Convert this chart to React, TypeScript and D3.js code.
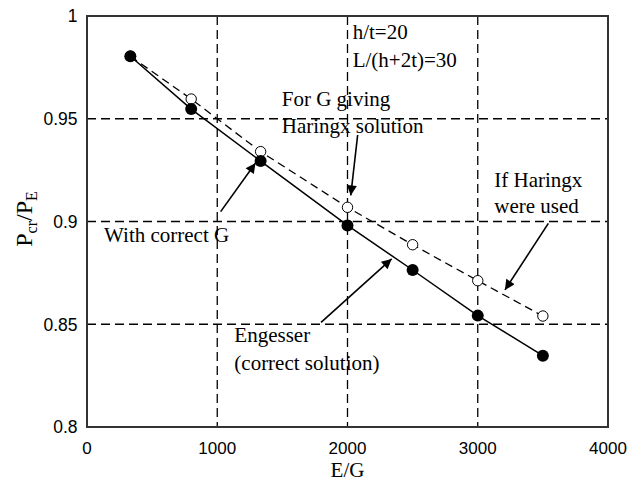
import { useEffect, useRef } from "react";
import * as d3 from "d3";

// E/G values and Pcr/PE ratios
const engesserX = [333, 800, 1333, 2000, 2500, 3000, 3500];
const engesserY = [0.9804, 0.9547, 0.9294, 0.8981, 0.8764, 0.8542, 0.8347];
const haringxX = [333, 800, 1333, 2000, 2500, 3000, 3500];
const haringxY = [0.9804, 0.9596, 0.934, 0.9069, 0.8887, 0.8712, 0.854];

const xTicks = [0, 1000, 2000, 3000, 4000];
const yTicks = [0.8, 0.85, 0.9, 0.95, 1];
const xGrid = [1000, 2000, 3000];
const yGrid = [0.85, 0.9, 0.95];

// annotation text lines: [E/G, ratio, text]
const notes: [number, number, string][] = [
  [2040, 0.9888, "h/t=20"],
  [2040, 0.9752, "L/(h+2t)=30"],
  [1495, 0.9562, "For G giving"],
  [1495, 0.9431, "Haringx solution"],
  [3127, 0.9169, "If Haringx"],
  [3127, 0.9041, "were used"],
  [131, 0.8902, "With correct G"],
  [1131, 0.8415, "Engesser"],
  [1131, 0.8277, "(correct solution)"],
];

// arrows: [fromX, fromY, toX, toY] in data units
const arrows: [number, number, number, number][] = [
  [1026, 0.9048, 1294, 0.9285],
  [2078, 0.9421, 2025, 0.9127],
  [1797, 0.8509, 2339, 0.8818],
  [3542, 0.8991, 3209, 0.8667],
];

const serif = "'Liberation Serif', 'Times New Roman', serif";
const sans = "'Liberation Sans', Arial, sans-serif";

export default function App() {
  const svgRef = useRef<SVGSVGElement>(null);

  useEffect(() => {
    if (!svgRef.current) return;
    const svg = d3.select(svgRef.current);
    svg.selectAll("*").remove();

    const W = 629, H = 481;
    const margin = { top: 16, right: 21, bottom: 54, left: 87 };
    const w = W - margin.left - margin.right;
    const h = H - margin.top - margin.bottom;

    const x = d3.scaleLinear().domain([0, 4000]).range([0, w]);
    const y = d3.scaleLinear().domain([0.8, 1]).range([h, 0]);

    const defs = svg.append("defs");
    defs.append("marker")
      .attr("id", "arrowhead")
      .attr("viewBox", "0 0 10 10")
      .attr("refX", 10).attr("refY", 5)
      .attr("markerWidth", 12).attr("markerHeight", 10)
      .attr("markerUnits", "userSpaceOnUse")
      .attr("orient", "auto")
      .append("path").attr("d", "M0,0 L10,5 L0,10 Z").attr("fill", "#000");

    const g = svg.append("g").attr("transform", `translate(${margin.left},${margin.top})`);

    // grid
    g.selectAll(".vgrid").data(xGrid).enter().append("line")
      .attr("x1", (d) => x(d)).attr("x2", (d) => x(d))
      .attr("y1", 0).attr("y2", h)
      .attr("stroke", "#000").attr("stroke-width", 1.3).attr("stroke-dasharray", "9,5");
    g.selectAll(".hgrid").data(yGrid).enter().append("line")
      .attr("x1", 0).attr("x2", w)
      .attr("y1", (d) => y(d)).attr("y2", (d) => y(d))
      .attr("stroke", "#000").attr("stroke-width", 1.3).attr("stroke-dasharray", "9,5");

    // frame
    g.append("rect").attr("width", w).attr("height", h)
      .attr("fill", "none").attr("stroke", "#333").attr("stroke-width", 2);

    // tick labels
    g.selectAll(".xt").data(xTicks).enter().append("text")
      .attr("x", (d) => x(d)).attr("y", h + 27)
      .attr("text-anchor", "middle").attr("font-family", sans).attr("font-size", 17)
      .text((d) => d);
    g.selectAll(".yt").data(yTicks).enter().append("text")
      .attr("x", -9.5).attr("y", (d) => y(d)).attr("dy", "0.36em")
      .attr("text-anchor", "end").attr("font-family", sans).attr("font-size", 17.5)
      .text((d) => String(d));

    // axis titles
    g.append("text")
      .attr("x", w / 2).attr("y", h + 49.5)
      .attr("text-anchor", "middle").attr("font-family", serif).attr("font-size", 21)
      .text("E/G");
    const yl = g.append("text")
      .attr("transform", `translate(${-55},${y(0.9) - 2.5}) rotate(-90)`)
      .attr("text-anchor", "middle").attr("font-family", serif).attr("font-size", 24);
    yl.append("tspan").text("P");
    yl.append("tspan").attr("font-size", 16).attr("dy", 5).text("cr");
    yl.append("tspan").attr("dy", -5).text("/P");
    yl.append("tspan").attr("font-size", 16).attr("dy", 5).text("E");

    // lines
    const line = d3.line<[number, number]>().x((d) => x(d[0])).y((d) => y(d[1]));
    const hPts = haringxX.map((v, i) => [v, haringxY[i]] as [number, number]);
    const ePts = engesserX.map((v, i) => [v, engesserY[i]] as [number, number]);

    g.append("path").attr("d", line(hPts)).attr("fill", "none")
      .attr("stroke", "#000").attr("stroke-width", 1.3).attr("stroke-dasharray", "8,5");
    g.append("path").attr("d", line(ePts)).attr("fill", "none")
      .attr("stroke", "#000").attr("stroke-width", 1.5);

    g.selectAll(".open").data(hPts).enter().append("circle")
      .attr("cx", (d) => x(d[0])).attr("cy", (d) => y(d[1])).attr("r", 5.2)
      .attr("fill", "#fff").attr("stroke", "#000").attr("stroke-width", 1);
    g.selectAll(".filled").data(ePts).enter().append("circle")
      .attr("cx", (d) => x(d[0])).attr("cy", (d) => y(d[1])).attr("r", 6)
      .attr("fill", "#000");

    // arrows
    g.selectAll(".arrow").data(arrows).enter().append("line")
      .attr("x1", (d) => x(d[0])).attr("y1", (d) => y(d[1]))
      .attr("x2", (d) => x(d[2])).attr("y2", (d) => y(d[3]))
      .attr("stroke", "#000").attr("stroke-width", 1.6)
      .attr("marker-end", "url(#arrowhead)");

    // annotations
    g.selectAll(".note").data(notes).enter().append("text")
      .attr("x", (d) => x(d[0])).attr("y", (d) => y(d[1]))
      .attr("font-family", serif).attr("font-size", 21)
      .text((d) => d[2]);
  }, []);

  return (
    <svg
      ref={svgRef}
      width={629}
      height={481}
      style={{ position: "absolute", left: 0, top: 0, background: "#fff" }}
    />
  );
}
